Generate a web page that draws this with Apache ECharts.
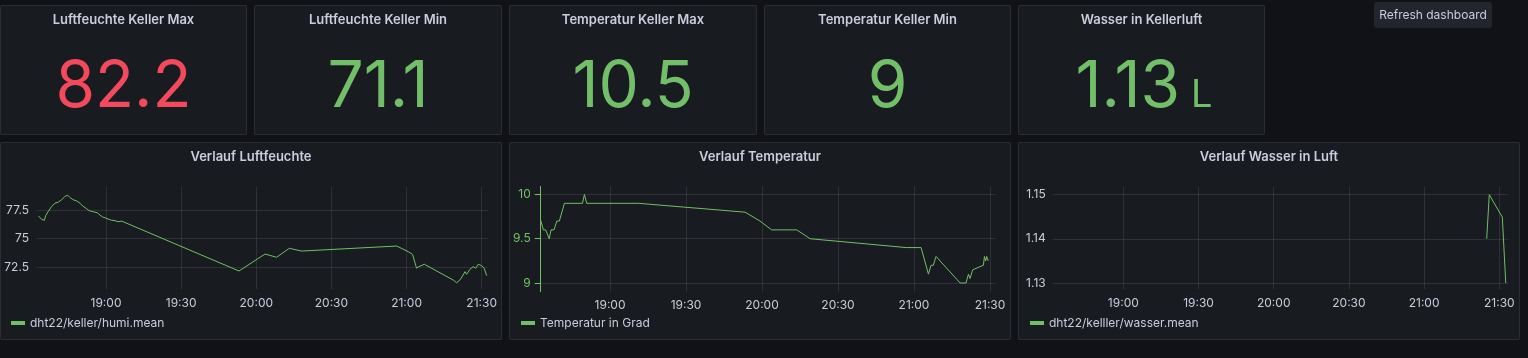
<!DOCTYPE html>
<html><head><meta charset="utf-8">
<script src="https://cdn.jsdelivr.net/npm/echarts@6/dist/echarts.min.js"></script>
<style>
html,body{margin:0;padding:0;background:#111217;width:1528px;height:358px;overflow:hidden;}
.box{position:absolute;background:#181b1f;border:1px solid rgba(204,204,220,0.1);box-sizing:border-box;border-radius:2px;}
.tip{position:absolute;background:#22252b;border-radius:3px;}
#chart{position:absolute;left:0;top:0;width:1528px;height:358px;}
</style></head><body>
<div id="boxes"></div>
<div id="chart"></div>
<script>
// ---------- data ----------
const statTitles = ['Luftfeuchte Keller Max', 'Luftfeuchte Keller Min', 'Temperatur Keller Max', 'Temperatur Keller Min', 'Wasser in Kellerluft'];
const statValues = ['82.2', '71.1', '10.5', '9', '1.13'];
const statUnits = ['', '', '', '', 'L'];
const statColors = ['#F2495C', '#73BF69', '#73BF69', '#73BF69', '#73BF69'];

const chartTitles = ['Verlauf Luftfeuchte', 'Verlauf Temperatur', 'Verlauf Wasser in Luft'];
const seriesNames = ['dht22/keller/humi.mean', 'Temperatur in Grad', 'dht22/kelller/wasser.mean'];
const xTickLabels = ['19:00', '19:30', '20:00', '20:30', '21:00', '21:30'];
const humiTickLabels = ['72.5', '75', '77.5'];
const tempTickLabels = ['9', '9.5', '10'];
const wasserTickLabels = ['1.13', '1.14', '1.15'];

const humiTimes = ['18:33:06','18:34:18','18:35:24','18:35:54','18:37:00','18:38:18','18:39:36','18:41:00','18:42:18','18:43:36',
  '18:44:42','18:45:36','18:46:54','18:48:18','18:49:36','18:50:42','18:52:00','18:53:18','18:54:54','18:56:30',
  '18:57:36','18:58:30','18:59:36','19:00:54','19:02:18','19:03:36','19:04:54','19:06:18','19:07:36','19:53:06',
  '20:03:30','20:08:06','20:13:12','20:18:06','20:56:00','20:57:24','21:00:42','21:02:24','21:04:00','21:04:54',
  '21:07:06','21:18:36','21:19:18','21:20:00','21:21:18','21:22:36','21:23:18','21:24:00','21:25:18','21:26:36',
  '21:27:36','21:28:36','21:30:00','21:31:00','21:32:00'];
const humiValues = [76.97,76.68,76.6,77.0,77.4,77.8,78.1,78.2,78.4,78.7,
  78.8,78.6,78.4,78.3,78.1,77.85,77.65,77.44,77.35,77.26,
  77.06,76.9,76.82,76.7,76.6,76.56,76.47,76.53,76.4,72.15,
  73.64,73.35,74.14,73.9,74.34,74.2,73.84,73.6,72.4,72.53,
  72.74,71.36,71.45,71.12,71.36,71.8,72.09,71.86,72.3,72.53,
  72.39,72.74,72.61,72.39,71.74];

const tempTimes = ['18:32:30','18:33:42','18:34:36','18:36:00','18:36:42','18:37:54','18:39:00','18:40:00','18:42:00','18:49:06',
  '18:49:54','18:50:48','19:11:12','19:53:18','19:59:12','20:03:48','20:13:42','20:19:00','20:57:00','21:02:48',
  '21:05:42','21:06:42','21:07:36','21:08:42','21:18:12','21:20:30','21:21:30','21:22:06','21:23:12','21:27:24',
  '21:27:48','21:28:18','21:28:42','21:29:18'];
const tempValues = [9.72,9.6,9.6,9.5,9.6,9.6,9.7,9.7,9.9,9.9,
  10.0,9.9,9.9,9.8,9.7,9.6,9.6,9.5,9.4,9.4,
  9.1,9.2,9.2,9.3,9.0,9.0,9.1,9.05,9.15,9.2,
  9.3,9.25,9.3,9.25];

const wasserTimes = ['21:24:58', '21:26:00', '21:31:12', '21:32:34'];
const wasserValues = [1.14, 1.15, 1.1449, 1.13];

// ---------- layout ----------
const boxes = [
  [0,5,247,130],[254,5,248,130],[509,5,248,130],[764,5,247,130],[1018,5,247,130],
  [0,142,502,198],[509,142,502,198],[1018,142,502,198]
];
const boxHost = document.getElementById('boxes');
boxes.forEach(b => {
  const d = document.createElement('div');
  d.className = 'box';
  d.style.left = b[0] + 'px'; d.style.top = b[1] + 'px';
  d.style.width = b[2] + 'px'; d.style.height = b[3] + 'px';
  boxHost.appendChild(d);
});
const tip = document.createElement('div');
tip.className = 'tip';
Object.assign(tip.style, {left: '1374px', top: '2px', width: '118px', height: '26px'});
boxHost.appendChild(tip);

function ts(s) {
  const p = s.split(':').map(Number);
  return Date.UTC(2023, 0, 1, p[0], p[1], p[2] || 0);
}
function pad(n) { return (n < 10 ? '0' : '') + n; }
function fmtTime(v) { const d = new Date(v); return pad(d.getUTCHours()) + ':' + pad(d.getUTCMinutes()); }

const FONT = 'Inter, "Noto Sans", sans-serif';
const TEXT = '#ccccdc';
const GRIDC = 'rgba(240,250,255,0.1)';
const GREEN = '#73BF69';

const statCentersX = [123.5, 378, 633, 887.5, 1141.5];
const chartCentersX = [251, 760, 1269];

const graphic = [];
statTitles.forEach((t, i) => {
  graphic.push({type: 'text', x: statCentersX[i], y: 20, silent: true,
    style: {text: t, fill: TEXT, font: '600 13px ' + FONT, align: 'center', verticalAlign: 'middle'}});
  if (statUnits[i]) {
    graphic.push({type: 'text', x: 1180, y: 88, silent: true,
      style: {text: statValues[i], fill: statColors[i], font: '400 64px ' + FONT, align: 'right', verticalAlign: 'middle'}});
    graphic.push({type: 'text', x: 1191, y: 96, silent: true,
      style: {text: statUnits[i], fill: statColors[i], font: '400 38px ' + FONT, align: 'left', verticalAlign: 'middle'}});
  } else {
    graphic.push({type: 'text', x: statCentersX[i], y: 88, silent: true,
      style: {text: statValues[i], fill: statColors[i], font: '400 64px ' + FONT, align: 'center', verticalAlign: 'middle'}});
  }
});
chartTitles.forEach((t, i) => {
  graphic.push({type: 'text', x: chartCentersX[i], y: 157, silent: true,
    style: {text: t, fill: TEXT, font: '600 13px ' + FONT, align: 'center', verticalAlign: 'middle'}});
});
graphic.push({type: 'text', x: 1433, y: 15, silent: true,
  style: {text: 'Refresh dashboard', fill: TEXT, font: '400 12px ' + FONT, align: 'center', verticalAlign: 'middle'}});

const xTicks = xTickLabels.map(s => ts(s + ':00'));
const grids = [
  {left: 36, top: 187, width: 451.7, height: 102},
  {left: 540.7, top: 186.5, width: 455.3, height: 105},
  {left: 1052.7, top: 187, width: 455.6, height: 102}
];
const xRanges = [['18:32:03', '21:32:24'], ['18:32:38', '21:32:22'], ['18:31:50', '21:33:35']];
const yRanges = [[70.57, 79.52], [8.904, 10.09], [1.12864, 1.15174]];
const yTickSets = [humiTickLabels, tempTickLabels, wasserTickLabels];
const seriesData = [
  humiTimes.map((t, i) => [ts(t), humiValues[i]]),
  tempTimes.map((t, i) => [ts(t), tempValues[i]]),
  wasserTimes.map((t, i) => [ts(t), wasserValues[i]])
];
const legendLeft = [11, 521, 1030];

const option = {
  animation: false,
  backgroundColor: 'transparent',
  textStyle: {fontFamily: FONT},
  graphic: graphic,
  grid: grids,
  xAxis: grids.map((g, i) => ({
    type: 'value', gridIndex: i,
    min: ts(xRanges[i][0]), max: ts(xRanges[i][1]),
    axisLine: {show: false},
    axisTick: {show: false, customValues: xTicks},
    axisLabel: {customValues: xTicks, formatter: v => fmtTime(v), color: TEXT, fontSize: 12, fontFamily: FONT, margin: 8},
    splitLine: {show: true, lineStyle: {color: GRIDC, width: 1}}
  })),
  yAxis: grids.map((g, i) => {
    const labels = yTickSets[i];
    const vals = labels.map(Number);
    const colored = i === 1;
    return {
      type: 'value', gridIndex: i,
      min: yRanges[i][0], max: yRanges[i][1],
      axisLine: {show: colored, lineStyle: {color: GREEN, width: 1}},
      axisTick: {show: colored, customValues: vals, length: 6, lineStyle: {color: GREEN}},
      axisLabel: {customValues: vals, color: colored ? GREEN : TEXT, fontSize: 12, fontFamily: FONT,
        margin: colored ? 10 : 7,
        formatter: v => { const k = vals.findIndex(x => Math.abs(x - v) < 1e-9); return k >= 0 ? labels[k] : String(v); }},
      splitLine: {show: true, lineStyle: {color: GRIDC, width: 1}}
    };
  }),
  legend: seriesNames.map((n, i) => ({
    data: [n], left: legendLeft[i], top: 317, padding: 0, itemWidth: 14, itemHeight: 4, icon: 'rect',
    selectedMode: false,
    textStyle: {color: TEXT, fontSize: 12, fontFamily: FONT}
  })),
  series: seriesNames.map((n, i) => ({
    name: n, type: 'line', xAxisIndex: i, yAxisIndex: i,
    data: seriesData[i], showSymbol: false, symbol: 'none',
    lineStyle: {color: GREEN, width: 1}, itemStyle: {color: GREEN},
    clip: true
  }))
};

const chart = echarts.init(document.getElementById('chart'), null, {renderer: 'canvas'});
chart.setOption(option);
</script>
</body></html>
